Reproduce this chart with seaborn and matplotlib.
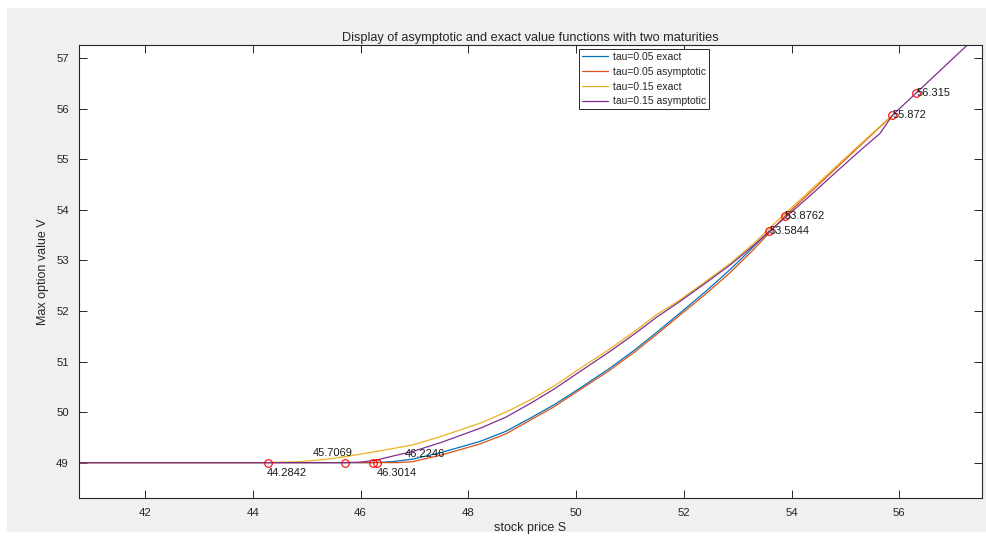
import numpy as np
import pandas as pd
import matplotlib
matplotlib.use("Agg")
import matplotlib.pyplot as plt
import seaborn as sns
from matplotlib.patches import Rectangle

# ---------------- data ----------------
labels = ["tau=0.05 exact", "tau=0.05 asymptotic", "tau=0.15 exact", "tau=0.15 asymptotic"]
colors = ["#0072BD", "#D95319", "#EDB120", "#7E2F8E"]

S_blue = [40.5, 46.2246, 46.6, 46.97, 47.5, 48.22, 48.7, 49.15, 49.6, 50.07, 50.63,
          51.09, 51.5, 51.93, 52.4, 52.86, 53.2, 53.5844]
V_blue = [49.0, 49.0, 49.02, 49.07, 49.2, 49.42, 49.62, 49.88, 50.15, 50.47, 50.87,
          51.23, 51.58, 51.96, 52.38, 52.82, 53.17, 53.5844]

S_orange = [40.5, 46.3014, 46.7, 46.97, 47.5, 48.22, 48.7, 49.15, 49.6, 50.07, 50.63,
            51.09, 51.5, 51.93, 52.4, 52.86, 53.3, 53.8762, 54.9, 55.872]
V_orange = [49.0, 49.0, 49.0, 49.02, 49.15, 49.37, 49.57, 49.84, 50.11, 50.44, 50.83,
            51.19, 51.54, 51.92, 52.33, 52.76, 53.22, 53.8762, 54.9, 55.872]

S_yellow = [40.5, 44.2842, 44.9, 45.4, 45.9, 46.4, 46.97, 47.5, 48.22, 48.7, 49.15, 49.6,
            50.07, 50.63, 51.09, 51.5, 51.93, 52.4, 52.86, 53.3, 53.7, 54.2, 54.9, 55.4, 55.872]
V_yellow = [49.0, 49.0, 49.02, 49.07, 49.15, 49.24, 49.35, 49.52, 49.78, 50.0, 50.24, 50.52,
            50.86, 51.25, 51.60, 51.93, 52.22, 52.58, 52.94, 53.34, 53.75, 54.24, 54.93, 55.42, 55.872]

S_purple = [40.5, 45.7069, 46.0, 46.3, 46.6, 46.97, 47.5, 48.22, 48.7, 49.15, 49.6, 50.07,
            50.63, 51.09, 51.5, 51.93, 52.4, 52.86, 53.3, 53.7, 54.3, 54.9, 55.3, 55.64,
            55.872, 56.315, 57.4]
V_purple = [49.0, 49.0, 49.01, 49.05, 49.13, 49.22, 49.40, 49.68, 49.9, 50.17, 50.46, 50.80,
            51.20, 51.55, 51.88, 52.19, 52.55, 52.91, 53.30, 53.68, 54.24, 54.82, 55.20, 55.51,
            55.872, 56.315, 57.4]

mark_S = [44.2842, 45.7069, 46.2246, 46.3014, 53.5844, 53.8762, 55.872, 56.315]
mark_V = [49.0, 49.0, 49.0, 49.0, 53.5844, 53.8762, 55.872, 56.315]
mark_txt = ["44.2842", "45.7069", "46.2246", "46.3014", "53.5844", "53.8762", "55.872", "56.315"]
txt_S = [44.264, 45.105, 46.826, 46.31, 53.5844, 53.8762, 55.872, 56.315]
txt_V = [48.80, 49.186, 49.17, 48.80, 53.5844, 53.8762, 55.872, 56.315]

x_ticks = [42, 44, 46, 48, 50, 52, 54, 56]
y_ticks = [49, 50, 51, 52, 53, 54, 55, 56, 57]

# ---------------- build long-form table ----------------
frames = []
for lab, S, V in zip(labels, [S_blue, S_orange, S_yellow, S_purple],
                     [V_blue, V_orange, V_yellow, V_purple]):
    frames.append(pd.DataFrame({"S": S, "V": V, "series": lab}))
df = pd.concat(frames, ignore_index=True)

# ---------------- style ----------------
sns.set_style("ticks")
plt.rcParams["font.family"] = ["Liberation Sans", "DejaVu Sans"]
dark = "#262626"
plt.rcParams.update({
    "axes.edgecolor": dark, "xtick.color": dark, "ytick.color": dark,
    "axes.labelcolor": dark, "text.color": dark, "axes.linewidth": 0.8,
})

fig = plt.figure(figsize=(9.86, 5.36), dpi=100, facecolor="white")
fig.patches.append(Rectangle((7 / 986, 4 / 536), 979 / 986, 524 / 536,
                             transform=fig.transFigure, facecolor="#f0f0f0",
                             edgecolor="none", zorder=-10))
ax = fig.add_axes([78.5 / 986, 1 - 498 / 536, (982 - 78.5) / 986, (498 - 45) / 536])
ax.set_facecolor("white")

sns.lineplot(data=df, x="S", y="V", hue="series", hue_order=labels,
             palette=dict(zip(labels, colors)), sort=False, estimator=None,
             units="series", linewidth=0.9, ax=ax, legend=False)

ax.plot(mark_S, mark_V, linestyle="none", marker="o", markersize=5.5,
        markerfacecolor="none", markeredgecolor="#ff0000", markeredgewidth=0.8, zorder=5)
for s, v, t in zip(txt_S, txt_V, mark_txt):
    ax.text(s, v, t, ha="left", va="center", fontsize=8.0, color="#1a1a1a", zorder=6)

ax.set_xlim(40.766, 57.535)
ax.set_ylim(48.30, 57.263)
ax.set_xticks(x_ticks)
ax.set_yticks(y_ticks)
ax.tick_params(direction="in", length=6, width=0.7, labelsize=8.2, top=True, right=True,
               labeltop=False, labelright=False, pad=7)
for sp in ax.spines.values():
    sp.set_visible(True)
    sp.set_color(dark)
    sp.set_linewidth(0.8)

ax.set_xlabel("stock price S", fontsize=9.0, labelpad=3)
ax.set_ylabel("Max option value V", fontsize=9.0, labelpad=5)
ax.set_title("Display of asymptotic and exact value functions with two maturities",
             fontsize=9.2, pad=3)

handles = [plt.Line2D([0], [0], color=c, lw=0.9) for c in colors]
leg = ax.legend(handles, labels, loc="upper left", bbox_to_anchor=(579 / 986, 1 - 49 / 536),
                bbox_transform=fig.transFigure, fontsize=7.5, frameon=True, fancybox=False,
                edgecolor=dark, framealpha=1, borderpad=0.3, labelspacing=0.45,
                handlelength=2.5, handletextpad=0.45, borderaxespad=0)
leg.get_frame().set_linewidth(0.7)

fig.savefig("out.png", dpi=100, facecolor=fig.get_facecolor())
